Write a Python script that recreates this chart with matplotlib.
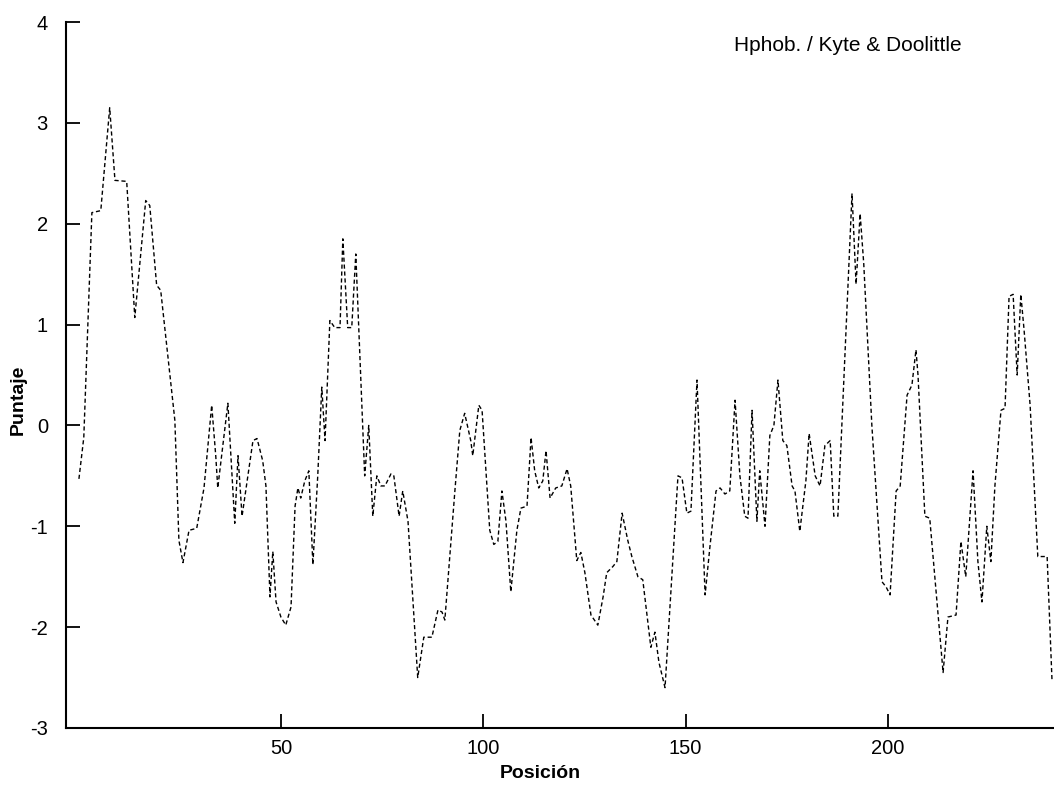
import matplotlib
matplotlib.use('Agg')
import matplotlib.pyplot as plt

posicion = [0.1, 1.3, 3.3, 5.5, 7.7, 9.0, 11.9, 13.9, 16.6, 17.6, 19.3, 20.3,
            23.8, 24.8, 25.8, 27.3, 29.2, 31.0, 32.9, 33.9, 34.4, 36.9, 38.6,
            39.4, 40.4, 43.1, 44.1, 45.5, 46.3, 47.3, 48.0, 48.8, 50.0, 51.2,
            52.5, 53.5, 54.2, 54.9, 55.9, 56.9, 57.9, 59.1, 60.1, 60.9, 62.1,
            63.3, 64.6, 65.3, 66.5, 67.5, 68.5, 70.7, 71.7, 72.7, 73.7, 74.7,
            75.7, 77.2, 77.9, 79.2, 80.1, 81.4, 83.8, 85.3, 87.3, 88.8, 89.8,
            90.5, 93.0, 94.2, 95.4, 96.9, 97.4, 98.9, 99.7, 101.6, 102.6,
            103.6, 104.6, 105.6, 106.8, 108.3, 109.3, 110.8, 111.8, 112.7,
            113.7, 114.7, 115.5, 116.5, 117.9, 119.4, 120.7, 121.6, 123.1,
            124.1, 125.1, 126.6, 128.3, 129.6, 130.5, 132.0, 133.0, 134.3,
            135.7, 136.7, 138.2, 139.4, 141.4, 142.4, 143.4, 144.9, 148.1,
            149.1, 150.3, 151.3, 152.8, 154.8, 156.0, 157.5, 158.5, 159.7,
            160.9, 162.2, 163.4, 164.6, 165.4, 166.4, 167.6, 168.3, 169.6,
            170.8, 171.8, 172.8, 174.0, 175.0, 176.3, 177.0, 178.2, 179.7,
            180.5, 182.0, 183.2, 184.4, 185.7, 186.6, 187.6, 191.1, 192.1,
            193.1, 194.0, 196.0, 198.5, 199.5, 200.5, 202.0, 203.0, 204.7,
            205.9, 206.9, 207.4, 209.1, 210.3, 213.6, 214.8, 216.8, 218.0,
            219.2, 221.0, 222.2, 223.2, 224.4, 225.4, 226.4, 227.9, 228.9,
            229.9, 230.9, 231.9, 232.8, 233.6, 235.1, 237.0, 239.3, 240.5]
puntaje = [-0.53, -0.12, 2.11, 2.13, 3.15, 2.43, 2.42, 1.07, 2.23, 2.18, 1.39,
           1.34, 0.05, -1.14, -1.36, -1.04, -1.02, -0.62, 0.2, -0.3, -0.62,
           0.22, -0.97, -0.3, -0.9, -0.15, -0.13, -0.35, -0.6, -1.7, -1.25,
           -1.75, -1.9, -1.98, -1.8, -0.8, -0.62, -0.72, -0.55, -0.45, -1.38,
           -0.5, 0.38, -0.15, 1.04, 0.97, 0.97, 1.85, 0.97, 0.97, 1.7, -0.5,
           0.0, -0.9, -0.5, -0.6, -0.6, -0.48, -0.5, -0.9, -0.65, -0.95, -2.5,
           -2.1, -2.1, -1.83, -1.85, -1.93, -0.64, -0.05, 0.12, -0.15, -0.3,
           0.2, 0.15, -1.04, -1.18, -1.15, -0.65, -0.95, -1.65, -1.04, -0.82,
           -0.8, -0.12, -0.45, -0.62, -0.55, -0.25, -0.72, -0.62, -0.6, -0.43,
           -0.6, -1.34, -1.26, -1.46, -1.88, -1.98, -1.7, -1.46, -1.4, -1.35,
           -0.87, -1.14, -1.3, -1.5, -1.53, -2.2, -2.05, -2.35, -2.6, -0.5,
           -0.52, -0.87, -0.85, 0.45, -1.68, -1.2, -0.65, -0.62, -0.68, -0.65,
           0.25, -0.5, -0.9, -0.92, 0.15, -0.95, -0.45, -1.0, -0.1, 0.0, 0.45,
           -0.15, -0.2, -0.6, -0.65, -1.05, -0.55, -0.08, -0.5, -0.6, -0.2,
           -0.15, -0.9, -0.9, 2.3, 1.4, 2.1, 1.6, 0.0, -1.55, -1.6, -1.68,
           -0.65, -0.6, 0.3, 0.4, 0.75, 0.5, -0.9, -0.92, -2.45, -1.9, -1.88,
           -1.15, -1.5, -0.45, -1.35, -1.75, -1.0, -1.35, -0.6, 0.15, 0.17,
           1.28, 1.3, 0.5, 1.3, 0.95, 0.2, -1.3, -1.3, -2.52]

plt.rcParams['font.family'] = ['Liberation Sans', 'DejaVu Sans']
plt.rcParams['axes.unicode_minus'] = False

fig = plt.figure(figsize=(10.54, 7.87), dpi=100)
ax = fig.add_axes([0.0626, 0.075, 0.9374, 0.897])

ax.plot(posicion, puntaje, color='black', linewidth=1.0, linestyle=(0, (3, 2)))

ax.set_xlim(-3.1, 241)
ax.set_ylim(-3, 4)
ax.set_xticks([50, 100, 150, 200])
ax.set_yticks([-3, -2, -1, 0, 1, 2, 3, 4])
ax.tick_params(direction='in', length=10, width=1.3, labelsize=14.5, pad=8)
ax.tick_params(axis='y', pad=13)

ax.spines['top'].set_visible(False)
ax.spines['right'].set_visible(False)
ax.spines['left'].set_linewidth(1.5)
ax.spines['bottom'].set_linewidth(1.5)

ax.set_xlabel('Posición', fontsize=14, fontweight='bold')
ax.xaxis.set_label_coords(0.48, -0.064)
ax.xaxis.label.set_va('center')
ax.set_ylabel('Puntaje', fontsize=14, fontweight='bold')
ax.yaxis.set_label_coords(-0.048, 0.465)
ax.yaxis.label.set_va('center')

ax.text(162, 3.77, 'Hphob. / Kyte & Doolittle', fontsize=15, va='center')

fig.savefig('out.png', dpi=100)
